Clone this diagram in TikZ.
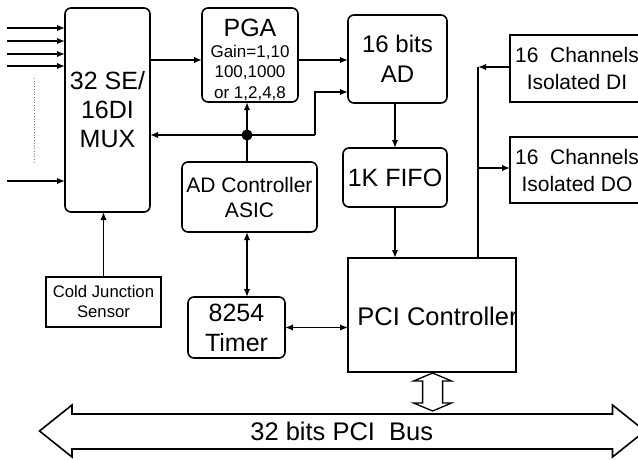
\documentclass[tikz,border=0pt]{standalone}
\usepackage{fontspec}
\setmainfont{Liberation Sans}
\usetikzlibrary{arrows.meta,calc}
\begin{document}
\begin{tikzpicture}[x=1pt,y=-1pt,line width=1.6pt,
  every node/.style={inner sep=0pt,outer sep=0pt,align=center},
  rbox/.style={draw,line width=1.6pt,rounded corners=6pt},
  pbox/.style={draw,line width=1.6pt},
  bigf/.style={font=\fontsize{25}{29}\selectfont},
  midf/.style={font=\fontsize{21}{25}\selectfont},
  chf/.style={font=\fontsize{21}{27}\selectfont},
  smf/.style={font=\fontsize{16.7}{20}\selectfont},
  conn/.style={line width=1.6pt,-{Latex[length=8pt,width=6.5pt]}},
  dconn/.style={line width=1.6pt,{Latex[length=8pt,width=6.5pt]}-{Latex[length=8pt,width=6.5pt]}},
  hollow/.style={draw,line width=1.6pt,fill=white,line join=miter}
]
\useasboundingbox (0,0) rectangle (638,459);

% boxes
\node[rbox,bigf,minimum width=85pt,minimum height=204pt] (mux) at (107.5,110) {32 SE/\\16DI\\MUX};
\node[rbox,minimum width=96pt,minimum height=94pt,
  label={[font=\fontsize{17}{20.5}\selectfont,align=center,yshift=-5pt]center:{\fontsize{25}{29}\selectfont PGA}\\Gain=1,10\\100,1000\\or 1,2,4,8}] (pga) at (250,55) {};
\node[rbox,font=\fontsize{24}{30}\selectfont,minimum width=99pt,minimum height=88pt] (ad) at (397.5,59) {16 bits\\AD};
\node[rbox,bigf,minimum width=104pt,minimum height=59pt] (fifo) at (395,177.5) {1K FIFO};
\node[rbox,midf,minimum width=135pt,minimum height=70pt] (asic) at (249.5,197) {AD Controller\\ASIC};
\node[rbox,font=\fontsize{25}{30}\selectfont,minimum width=97pt,minimum height=61pt] (timer) at (236.5,327.5) {8254\\Timer};
\node[pbox,smf,minimum width=115pt,minimum height=50pt] (cold) at (103.5,302) {Cold Junction\\Sensor};
\node[pbox,minimum width=168pt,minimum height=114pt,
  label={[font=\fontsize{25.5}{30}\selectfont,xshift=5.5pt,yshift=-1pt]center:PCI Controller}] (pci) at (432,315) {};
\node[pbox,chf,minimum width=134pt,minimum height=67pt] (di) at (577,68.5) {16\ \ Channels\\Isolated DI};
\node[pbox,chf,minimum width=134pt,minimum height=66pt] (do) at (577,170) {16\ \ Channels\\Isolated DO};

% inputs
\foreach \n/\yy in {1/28,2/41,3/54,4/66,5/181}{
  \coordinate (in\n) at (7,\yy);
  \draw[conn] (in\n) -- (in\n -| mux.west);
}
\draw[dotted,line width=0.7pt,gray] (34,78) -- (34,162);

% MUX -> PGA -> AD
\coordinate (mo) at (150,60);
\draw[conn] (mo) -- (mo -| pga.west);
\coordinate (po) at (298,60);
\draw[conn] (po) -- (po -| ad.west);

% control lines
\coordinate (dot) at (247,135);
\coordinate (fb) at (315,135);
\coordinate (fbt) at (315,92);
\draw (dot |- asic.north) -- (dot);
\draw[conn] (dot) -- (dot |- pga.south);
\draw[conn] (fb) -- (fb -| mux.east);
\draw[conn] (fb) -- (fbt) -- (fbt -| ad.west);
\fill (dot) circle (5.5pt);

% AD -> FIFO -> PCI
\draw[conn] (fifo.north |- ad.south) -- (fifo.north);
\draw[conn] (fifo.south) -- (fifo.south |- pci.north);

% DI / DO
\coordinate (bj) at (478,67);
\coordinate (bd) at (478,168);
\draw[conn] (bj -| di.west) -- (bj);
\draw (bj) -- (bj |- pci.north);
\draw[conn] (bd) -- (bd -| do.west);

% ASIC <-> timer, timer <-> PCI, cold -> MUX
\draw[dconn] (dot |- asic.south) -- (dot |- timer.north);
\draw[dconn] (timer.east) -- (timer.east -| pci.west);
\draw[conn] (cold.north) -- (cold.north |- mux.south);

% PCI bus
\draw[hollow] (39.5,431) -- (72,405) -- (72,414) -- (612.5,414) -- (612.5,405) -- (645,431)
  -- (612.5,457) -- (612.5,449) -- (72,449) -- (72,457) -- cycle;
\node[font=\fontsize{25.5}{30}\selectfont] (bus) at (341.75,431.5) {32 bits PCI\ \ Bus};

% PCI controller <-> bus
\coordinate (va) at (432.6,373);
\coordinate (vb) at (432.6,411);
\draw[hollow,line width=1.3pt] (va) -- ($(va)+(19,8)$) -- ($(va)+(10,8)$) -- ($(vb)+(10,-8)$) -- ($(vb)+(19,-8)$)
  -- (vb) -- ($(vb)+(-19,-8)$) -- ($(vb)+(-10,-8)$) -- ($(va)+(-10,8)$) -- ($(va)+(-19,8)$) -- cycle;
\end{tikzpicture}
\end{document}
